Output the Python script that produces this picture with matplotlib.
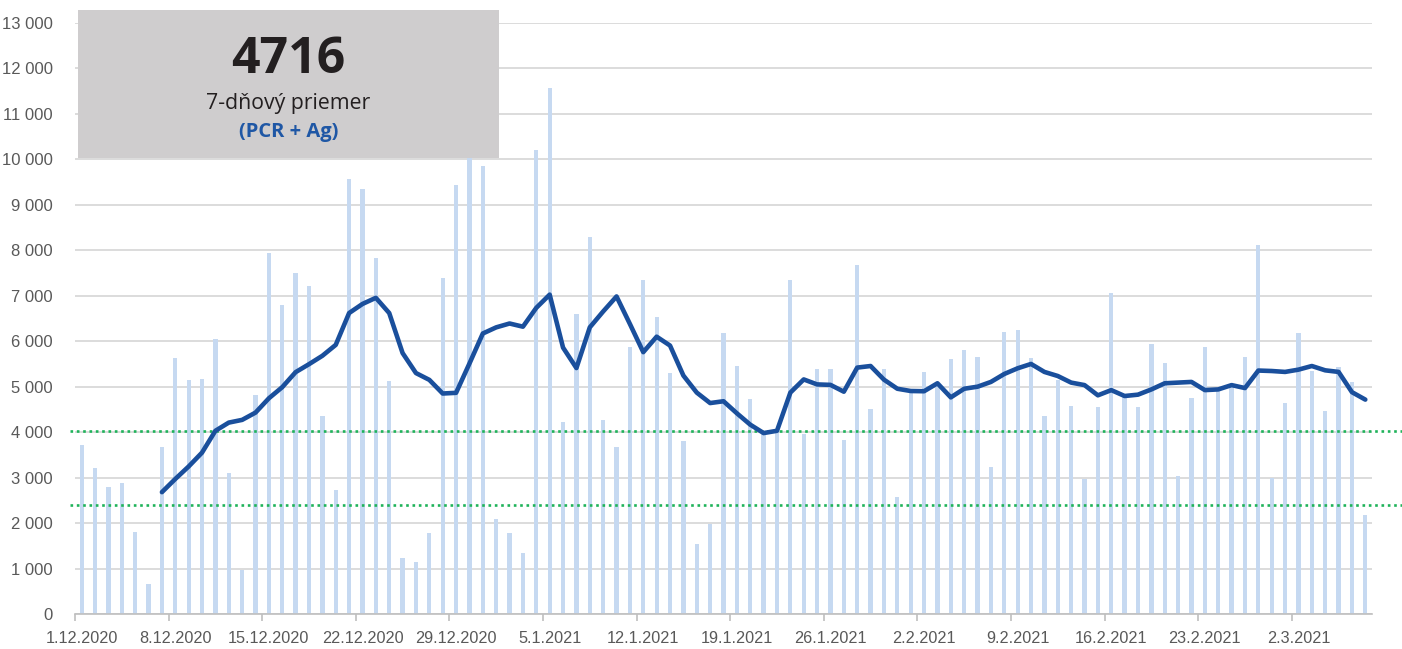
import numpy as np
import matplotlib
matplotlib.use("Agg")
import matplotlib.pyplot as plt
from matplotlib.patches import Rectangle
from matplotlib.ticker import FuncFormatter

# Daily positive cases (PCR + Ag), 1.12.2020 - 7.3.2021
daily_cases = [
    3710, 3215, 2800, 2880, 1795, 655, 3670, 5630, 5150, 5180,
    6050, 3110, 975, 4810, 7940, 6790, 7500, 7215, 4350, 2720,
    9565, 9345, 7840, 5125, 1235, 1150, 1785, 7395, 9445, 10450,
    9850, 2090, 1790, 1345, 10210, 11560, 4220, 6605, 8300, 4275,
    3670, 5875, 7350, 6540, 5310, 3795, 1535, 1975, 6180, 5460,
    4740, 3980, 4020, 7350, 3970, 5380, 5380, 3820, 7685, 4500,
    5400, 2575, 4900, 5320, 5040, 5600, 5800, 5660, 3235, 6195,
    6250, 5630, 4345, 5150, 4565, 2970, 4545, 7050, 4780, 4545,
    5940, 5515, 3035, 4745, 5870, 4920, 5000, 5645, 8125, 2985,
    4632, 6180, 5340, 4455, 5440, 5095, 2185,
]

# 7-day average, starts on 7.12.2020 (index 6)
avg_start = 6
avg_7day = [
    2680, 2970, 3245, 3550, 4030, 4210, 4270, 4430, 4745, 4990,
    5320, 5495, 5680, 5920, 6620, 6820, 6955, 6620, 5740, 5300,
    5150, 4850, 4865, 5510, 6170, 6305, 6390, 6320, 6735, 7025,
    5860, 5410, 6305, 6655, 6985, 6380, 5760, 6100, 5905, 5245,
    4870, 4640, 4680, 4415, 4165, 3980, 4030, 4870, 5160, 5050,
    5040, 4890, 5420, 5455, 5155, 4955, 4905, 4900, 5075, 4765,
    4955, 5000, 5105, 5280, 5405, 5500, 5325, 5235, 5090, 5035,
    4810, 4925, 4795, 4825, 4940, 5075, 5090, 5105, 4925, 4940,
    5035, 4970, 5355, 5345, 5325, 5375, 5455, 5360, 5325, 4880,
    4716,
]

# threshold lines
thresholds = [4030, 2400]

week_labels = ["1.12.2020", "8.12.2020", "15.12.2020", "22.12.2020", "29.12.2020",
               "5.1.2021", "12.1.2021", "19.1.2021", "26.1.2021", "2.2.2021",
               "9.2.2021", "16.2.2021", "23.2.2021", "2.3.2021"]

box_value = "4716"
box_title = "7-dňový priemer"
box_subtitle = "(PCR + Ag)"

plt.rcParams['font.family'] = ['Liberation Sans', 'DejaVu Sans']

fig = plt.figure(figsize=(14.02, 6.49), dpi=100)
ax = fig.add_axes([75 / 1402, 35 / 649, (1372 - 75) / 1402, (614 - 23) / 649])

x = np.arange(len(daily_cases))
ax.bar(x, daily_cases, width=0.32, color='#c6d9f1', zorder=2)

x_avg = np.arange(avg_start, avg_start + len(avg_7day))
ax.plot(x_avg, avg_7day, color='#1a4f9c', lw=3.3, zorder=4,
        solid_capstyle='round', solid_joinstyle='round')

for t in thresholds:
    ax.plot([-0.004, 1.03], [t, t], transform=ax.get_yaxis_transform(),
            color='#1fb35a', lw=1.9, linestyle=(0, (1, 1.4)),
            clip_on=False, zorder=3)

ax.set_xlim(-0.5, len(daily_cases) - 0.5)
ax.set_ylim(0, 13000)
ax.set_yticks(np.arange(0, 13001, 1000))
ax.yaxis.set_major_formatter(FuncFormatter(lambda v, p: f"{int(v):,}".replace(",", " ")))
ax.grid(axis='y', color='#d9d9d9', lw=1.3, zorder=0)
ax.set_axisbelow(True)

ax.set_xticks(np.arange(0, len(week_labels) * 7, 7))
ax.set_xticklabels(week_labels)
ax.set_xticks(np.arange(-0.5, len(daily_cases), 7), minor=True)
ax.tick_params(axis='x', which='major', length=0, pad=12, labelsize=11.7, labelcolor='#595959')
ax.tick_params(axis='x', which='minor', length=5, width=1.2, color='#bfbfbf')
ax.tick_params(axis='y', length=0, pad=16, labelsize=12, labelcolor='#595959')

for side in ['top', 'right', 'left']:
    ax.spines[side].set_visible(False)
ax.spines['bottom'].set_color('#bfbfbf')
ax.spines['bottom'].set_linewidth(1.2)

# summary box in the top-left corner
bx0, bx1 = 78 / 1402, 499 / 1402
by0, by1 = (649 - 158) / 649, (649 - 10) / 649
ax.add_patch(Rectangle((bx0, by0), bx1 - bx0, by1 - by0, transform=fig.transFigure,
                       facecolor='#cfcdce', edgecolor='none', clip_on=False, zorder=6))
cx = (bx0 + bx1) / 2
fig.text(cx, (649 - 73) / 649, box_value, ha='center', va='baseline',
         fontsize=36, fontweight='bold', color='#231f20', family='Open Sans', zorder=7)
fig.text(cx, (649 - 109) / 649, box_title, ha='center', va='baseline',
         fontsize=15.3, color='#231f20', family='Open Sans', zorder=7)
fig.text(cx, (649 - 137) / 649, box_subtitle, ha='center', va='baseline',
         fontsize=14.5, fontweight='bold', color='#1f57a5', family='Open Sans', zorder=7)

fig.savefig('out.png', dpi=100)
